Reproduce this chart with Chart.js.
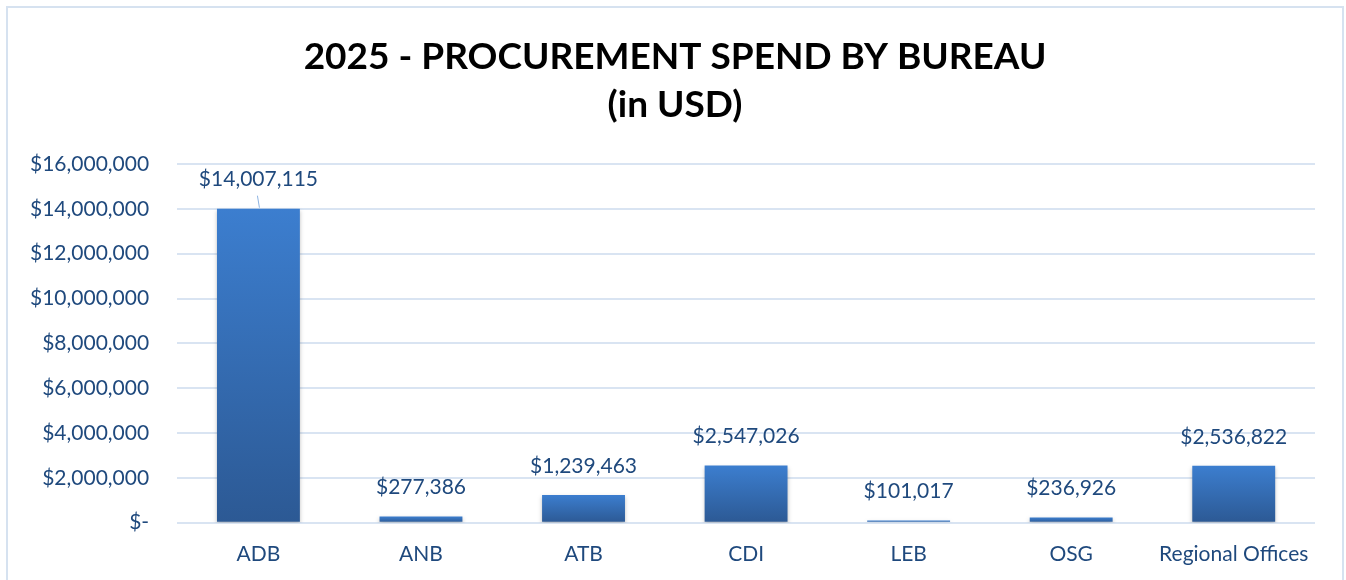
<!DOCTYPE html>
<html>
<head>
<meta charset="utf-8">
<script src="https://cdn.jsdelivr.net/npm/chart.js@4.4.1/dist/chart.umd.min.js"></script>
<style>
  html, body { margin: 0; padding: 0; background: #fff; }
  #wrap { position: relative; width: 1346px; height: 580px; }
</style>
</head>
<body>
<div id="wrap"><canvas id="spendChart" width="1346" height="580"></canvas></div>
<script>
var bureaus = ["ADB", "ANB", "ATB", "CDI", "LEB", "OSG", "Regional Offices"];
var spend = [14007115, 277386, 1239463, 2547026, 101017, 236926, 2536822];
var titleLines = ["2025 - PROCUREMENT SPEND BY BUREAU", "(in USD)"];

var textBlue = "#1F497D";

function money(v) {
    if (v === 0) return "$-";
    return "$" + Math.round(v).toLocaleString("en-US");
}

// frame around the chart + title centred on the whole chart
var framePlugin = {
    id: "frame",
    beforeDraw: function (chart) {
        var ctx = chart.ctx;
        ctx.save();
        ctx.strokeStyle = "#D6E2F0";
        ctx.lineWidth = 2;
        ctx.strokeRect(7, 7, 1336, 600);
        ctx.restore();
    },
    afterDraw: function (chart) {
        var ctx = chart.ctx;
        ctx.save();
        ctx.font = "bold 37px Lato";
        ctx.fillStyle = "#000";
        ctx.textAlign = "center";
        ctx.textBaseline = "middle";
        ctx.fillText(titleLines[0], 675, 57);
        ctx.fillText(titleLines[1], 675, 105);
        ctx.restore();
    }
};

// bar shadow
var shadowPlugin = {
    id: "barShadow",
    beforeDatasetDraw: function (chart) {
        var ctx = chart.ctx;
        ctx.save();
        ctx.shadowColor = "rgba(0,0,0,0.25)";
        ctx.shadowBlur = 4;
        ctx.shadowOffsetY = 2;
    },
    afterDatasetDraw: function (chart) {
        chart.ctx.restore();
    }
};

// value labels above bars
var valueLabels = {
    id: "valueLabels",
    afterDatasetsDraw: function (chart) {
        var ctx = chart.ctx;
        var meta = chart.getDatasetMeta(0);
        ctx.save();
        ctx.font = "21px Lato";
        ctx.fillStyle = textBlue;
        ctx.textAlign = "center";
        ctx.textBaseline = "middle";
        meta.data.forEach(function (bar, i) {
            ctx.fillText(money(spend[i]), bar.x, bar.y - 29);
        });
        // leader line for the tall bar
        var first = meta.data[0];
        ctx.strokeStyle = "#8DB3E2";
        ctx.lineWidth = 1;
        ctx.beginPath();
        ctx.moveTo(first.x - 1, first.y - 13);
        ctx.lineTo(first.x + 1, first.y - 1);
        ctx.stroke();
        ctx.restore();
    }
};

function barGradient(context) {
    var chart = context.chart;
    if (!chart.chartArea || !chart.scales.y) return "#3A78C6";
    var y = chart.scales.y;
    var top = y.getPixelForValue(context.raw || 0);
    var bottom = y.getPixelForValue(0);
    if (!isFinite(top) || bottom - top < 1) return "#3A78C6";
    var g = chart.ctx.createLinearGradient(0, top, 0, bottom);
    g.addColorStop(0, "#3C7ECF");
    g.addColorStop(1, "#2C5994");
    return g;
}

var ctx = document.getElementById("spendChart").getContext("2d");
var spendChart = new Chart(ctx, {
    type: "bar",
    data: {
        labels: bureaus,
        datasets: [{
            label: "Spend",
            data: spend,
            backgroundColor: barGradient,
            borderWidth: 0,
            categoryPercentage: 1,
            barPercentage: 0.51
        }]
    },
    options: {
        responsive: false,
        animation: false,
        layout: {
            padding: { left: 2, right: 31, top: 164, bottom: -5 }
        },
        plugins: {
            legend: { display: false },
            tooltip: { enabled: false },
            title: { display: false }
        },
        scales: {
            x: {
                grid: { display: false, drawTicks: false },
                border: { display: false },
                ticks: {
                    color: textBlue,
                    font: { family: "Lato", size: 21, lineHeight: 0.3 },
                    padding: 28,
                    maxRotation: 0
                }
            },
            y: {
                min: 0,
                max: 16000000,
                grid: { color: "#D9E4F2", lineWidth: 2, drawTicks: false },
                border: { display: false },
                ticks: {
                    stepSize: 2000000,
                    color: textBlue,
                    font: { family: "Lato", size: 21 },
                    padding: 28,
                    callback: function (v) { return money(v); }
                }
            }
        }
    },
    plugins: [framePlugin, shadowPlugin, valueLabels]
});
</script>
</body>
</html>
